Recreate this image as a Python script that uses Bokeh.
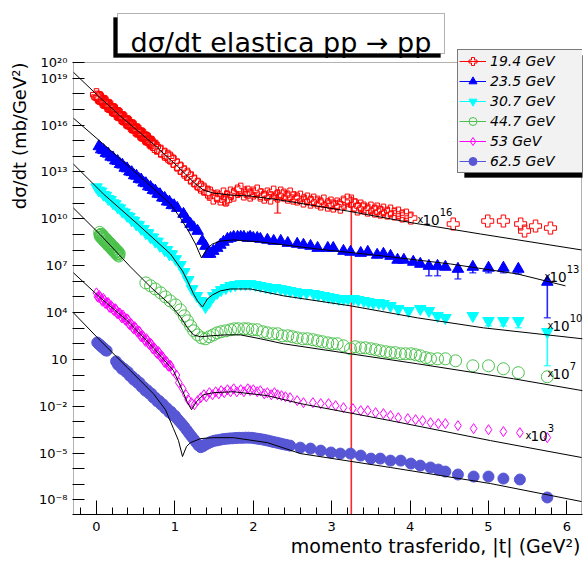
import numpy as np
from bokeh.plotting import figure
from bokeh.models import (Range1d, FixedTicker, CustomJSTickFormatter, Label, Title,
                          Legend, LegendItem, BoxAnnotation)
from bokeh.embed import file_html
from bokeh.resources import INLINE

FONT = "DejaVu Sans"

# ---------------- data (t in GeV^2, log10 of dsigma/dt in mb/GeV^2, unscaled) ----------------
ENERGY_LABELS = ["19.4 GeV", "23.5 GeV", "30.7 GeV", "44.7 GeV", "53 GeV", "62.5 GeV"]
SCALE_EXP = [16, 13, 10, 7, 3, 0]

T_194 = [0.00, 0.03, 0.06, 0.09, 0.12, 0.15, 0.18, 0.21, 0.24, 0.27, 0.30, 0.33, 0.36, 0.39, 0.42,
         0.45, 0.48, 0.51, 0.54, 0.57, 0.60, 0.63, 0.66, 0.69, 0.72, 0.74,
         0.015, 0.045, 0.075, 0.105, 0.135, 0.165, 0.195, 0.225, 0.255, 0.285, 0.315, 0.345,
         0.375, 0.405, 0.435, 0.465, 0.495, 0.525, 0.555, 0.585, 0.615, 0.645, 0.675, 0.705,
         0.77, 0.82, 0.87, 0.91, 0.94, 0.98,
         1.03, 1.07, 1.12, 1.16, 1.20, 1.25, 1.29, 1.33, 1.37, 1.42, 1.45, 1.49,
         1.54, 1.58, 1.62, 1.65, 1.67, 1.71, 1.75, 1.80, 1.84, 1.88, 1.93, 1.96,
         2.00, 2.05, 2.09, 2.14, 2.18, 2.22, 2.26, 2.31, 2.35, 2.39, 2.44, 2.47,
         2.51, 2.56, 2.60, 2.64, 2.69, 2.73, 2.77, 2.82, 2.86, 2.90, 2.95, 2.99,
         3.02, 3.07, 3.11, 3.15, 3.20, 3.25, 3.29, 3.33, 3.37, 3.41, 3.46, 3.50,
         3.55, 3.58, 3.62, 3.66, 3.71, 3.75, 3.80, 3.85, 3.90, 3.95, 4.01,
         4.55, 4.99, 5.19, 5.41, 5.46, 5.60, 5.79]
LG_194 = [1.95, 1.74, 1.67, 1.47, 1.42, 1.22, 1.16, 0.96, 0.91, 0.70, 0.65, 0.43, 0.38, 0.16, 0.12,
          -0.10, -0.14, -0.36, -0.40, -0.62, -0.66, -0.88, -0.92, -1.13, -1.23, -1.37,
          1.80, 1.76, 1.53, 1.50, 1.27, 1.24, 1.01, 0.98, 0.75, 0.72, 0.49, 0.46,
          0.23, 0.20, -0.03, -0.06, -0.29, -0.32, -0.55, -0.58, -0.81, -0.85, -1.07, -1.11,
          -1.48, -1.67, -1.86, -1.99, -2.11, -2.31,
          -2.56, -2.75, -3.01, -3.14, -3.39, -3.58, -3.78, -3.97, -4.10, -4.29, -4.35, -4.67,
          -4.54, -4.73, -4.41, -4.80, -4.61, -4.35, -4.48, -4.22, -4.10, -4.41, -4.29, -4.48,
          -4.35, -4.22, -4.48, -4.61, -4.41, -4.67, -4.29, -4.54, -4.35, -4.48, -4.61, -4.41,
          -4.67, -4.73, -4.61, -4.86, -4.73, -4.93, -4.80, -4.93, -5.05, -4.86, -5.12, -4.99,
          -5.18, -5.05, -5.25, -4.93, -4.80, -4.86, -5.12, -5.37, -5.18, -5.31, -5.44, -5.31,
          -5.50, -5.37, -5.57, -5.44, -5.63, -5.50, -5.69, -5.63, -5.82, -5.76, -5.95,
          -6.33, -6.14, -6.14, -6.33, -6.78, -6.46, -6.59]

T_235 = [0.03, 0.06, 0.09, 0.12, 0.15, 0.18, 0.21, 0.24, 0.27, 0.30, 0.33, 0.36, 0.39, 0.42, 0.45,
         0.48, 0.51, 0.54, 0.57, 0.60, 0.63, 0.66, 0.69, 0.72, 0.75, 0.78, 0.81, 0.84, 0.87, 0.90,
         0.93, 0.96, 0.99,
         1.03, 1.11, 1.15, 1.20, 1.24, 1.29, 1.35, 1.39, 1.42, 1.45,
         1.49, 1.54, 1.58, 1.62, 1.67, 1.71, 1.75, 1.80, 1.84, 1.88,
         1.93, 1.96, 2.00, 2.05, 2.09, 2.18, 2.26, 2.35, 2.44, 2.56,
         2.64, 2.73, 2.82, 2.95, 3.02, 3.15, 3.24, 3.37, 3.46, 3.58,
         3.66, 3.75, 3.84, 3.92, 4.04, 4.13, 4.24, 4.35, 4.45, 4.61,
         4.80, 5.00, 5.19, 5.38, 5.75]
LG_235 = [1.64, 1.44, 1.39, 1.21, 1.16, 0.97, 0.92, 0.73, 0.69, 0.50, 0.46, 0.26, 0.22, 0.02, -0.02,
          -0.22, -0.25, -0.45, -0.49, -0.69, -0.73, -0.93, -0.97, -1.16, -1.20, -1.40, -1.43, -1.65,
          -1.67, -1.90, -1.91, -2.13, -2.14,
          -2.31, -2.69, -3.02, -3.33, -3.55, -3.78, -4.42, -4.74, -5.25, -5.25,
          -5.06, -4.87, -4.67, -4.48, -4.29, -4.23, -4.16, -4.16, -4.16, -4.16,
          -4.23, -4.16, -4.23, -4.23, -4.29, -4.35, -4.42, -4.42, -4.55, -4.61,
          -4.67, -4.74, -4.87, -4.87, -4.87, -5.06, -5.12, -5.19, -5.12, -5.31,
          -5.25, -5.38, -5.63, -5.63, -5.76, -5.89, -6.02, -6.02, -6.08, -6.21,
          -6.08, -6.14, -6.14, -6.21, -7.04]

T_307 = [0.00, 0.03, 0.06, 0.09, 0.12, 0.15, 0.18, 0.21, 0.24, 0.27, 0.30, 0.33, 0.36, 0.39, 0.42,
         0.45, 0.48, 0.51, 0.54, 0.57, 0.60, 0.63, 0.66, 0.69, 0.72, 0.75, 0.78, 0.81, 0.84, 0.87,
         0.90, 0.93, 0.96,
         1.01, 1.07, 1.12, 1.17, 1.22, 1.28, 1.33, 1.39, 1.44, 1.49, 1.54,
         1.59, 1.65, 1.71, 1.77, 1.84, 1.90, 1.96, 2.03, 2.09,
         2.16, 2.22, 2.28, 2.35, 2.41, 2.47, 2.54, 2.60, 2.68, 2.77,
         2.83, 2.90, 2.96, 3.02, 3.09, 3.15, 3.21, 3.28, 3.34, 3.41,
         3.47, 3.53, 3.60, 3.66, 3.75, 3.85, 3.98, 4.13, 4.24, 4.35,
         4.45, 4.80, 5.00, 5.19, 5.38, 5.75]
LG_307 = [2.03, 1.82, 1.76, 1.55, 1.49, 1.28, 1.22, 1.01, 0.95, 0.74, 0.68, 0.47, 0.41, 0.20, 0.14,
          -0.08, -0.12, -0.36, -0.38, -0.63, -0.64, -0.91, -0.91, -1.18, -1.18, -1.45, -1.45, -1.72,
          -1.72, -1.99, -1.99, -2.26, -2.26,
          -2.57, -2.95, -3.40, -3.91, -4.49, -4.93, -5.25, -5.64, -5.32, -4.93, -4.74,
          -4.55, -4.42, -4.29, -4.23, -4.17, -4.17, -4.17, -4.23, -4.29,
          -4.36, -4.42, -4.42, -4.49, -4.55, -4.61, -4.68, -4.74, -4.74, -4.80,
          -4.87, -4.93, -5.00, -5.06, -5.12, -5.12, -5.12, -5.12, -5.19, -5.25,
          -5.32, -5.38, -5.38, -5.44, -5.57, -5.76, -5.89, -5.76, -5.89, -6.21,
          -6.34, -6.21, -6.53, -6.53, -6.53, -7.23]

T_447 = [0.040, 0.045, 0.050, 0.055, 0.060, 0.065, 0.070, 0.075, 0.080, 0.085,
         0.090, 0.095, 0.100, 0.105, 0.110, 0.115, 0.120, 0.125, 0.130, 0.135,
         0.140, 0.145, 0.150, 0.155, 0.160, 0.165, 0.170, 0.175, 0.180, 0.185,
         0.190, 0.195, 0.200, 0.205, 0.210, 0.215, 0.220, 0.225, 0.230, 0.235,
         0.240, 0.245, 0.250, 0.255, 0.260, 0.265, 0.270, 0.275, 0.280, 0.285, 0.290,
         0.63, 0.69, 0.75, 0.82, 0.88, 0.94, 1.01, 1.07, 1.12, 1.16,
         1.20, 1.24, 1.29, 1.34, 1.39, 1.44, 1.49, 1.54, 1.59, 1.65,
         1.71, 1.76, 1.81, 1.88, 1.93, 1.99, 2.05, 2.12, 2.18, 2.25,
         2.31, 2.37, 2.44, 2.50, 2.56, 2.63, 2.69, 2.76, 2.82, 2.88,
         2.95, 3.01, 3.07, 3.15, 3.24, 3.30, 3.37, 3.43, 3.50, 3.56,
         3.62, 3.69, 3.75, 3.81, 3.88, 3.94, 4.01, 4.07, 4.13, 4.20,
         4.26, 4.35, 4.45, 4.58, 4.80, 5.00, 5.19, 5.38, 5.75]
LG_447 = [2.13, 1.94, 1.99, 1.83, 1.99, 1.86, 1.99, 1.75, 1.85, 1.69,
          1.86, 1.67, 1.73, 1.56, 1.72, 1.60, 1.72, 1.48, 1.59, 1.42,
          1.59, 1.40, 1.46, 1.29, 1.45, 1.33, 1.45, 1.21, 1.32, 1.15,
          1.32, 1.14, 1.19, 1.02, 1.19, 1.06, 1.18, 0.95, 1.05, 0.88,
          1.06, 0.87, 0.92, 0.76, 0.92, 0.79, 0.92, 0.68, 0.78, 0.62, 0.79,
          -1.10, -1.29, -1.49, -1.74, -2.00, -2.25, -2.51, -2.83, -3.21, -3.53,
          -3.85, -4.17, -4.43, -4.62, -4.68, -4.55, -4.43, -4.30, -4.23, -4.17,
          -4.10, -4.04, -4.04, -4.04, -4.04, -4.10, -4.10, -4.23, -4.30, -4.36,
          -4.36, -4.49, -4.49, -4.55, -4.62, -4.68, -4.68, -4.74, -4.81, -4.87,
          -4.94, -5.00, -5.00, -5.13, -5.32, -5.19, -5.26, -5.26, -5.32, -5.38,
          -5.45, -5.51, -5.57, -5.57, -5.64, -5.64, -5.64, -5.70, -5.77, -5.89,
          -5.96, -5.96, -5.96, -6.09, -6.41, -6.41, -6.60, -6.85, -7.11]

T_53 = [0.000, 0.025, 0.050, 0.075, 0.100, 0.125, 0.150, 0.175, 0.200, 0.225, 0.250, 0.275, 0.300,
        0.325, 0.350, 0.375, 0.400, 0.425, 0.450, 0.475, 0.500, 0.525, 0.550, 0.575, 0.600, 0.625,
        0.650, 0.675, 0.700, 0.725, 0.750, 0.775, 0.800, 0.825, 0.850, 0.875, 0.900, 0.925, 0.950,
        0.0125, 0.0375, 0.0625, 0.0875, 0.1125, 0.1375, 0.1625, 0.1875, 0.2125, 0.2375,
        0.2625, 0.2875, 0.3125, 0.3375, 0.3625, 0.3875, 0.4125, 0.4375, 0.4625, 0.4875,
        0.5125, 0.5375, 0.5625, 0.5875, 0.6125, 0.6375, 0.6625, 0.6875, 0.7125, 0.7375,
        0.7625, 0.7875, 0.8125, 0.8375, 0.8625, 0.8875, 0.9125, 0.9375,
        0.98, 1.02, 1.05, 1.10, 1.14, 1.17, 1.21, 1.25, 1.29, 1.33,
        1.37, 1.40, 1.44, 1.48, 1.52, 1.56, 1.59, 1.63, 1.67, 1.71,
        1.75, 1.79, 1.84, 1.88, 1.93, 1.96, 2.00, 2.05, 2.09, 2.14,
        2.18, 2.23, 2.27, 2.31, 2.36, 2.41, 2.47, 2.56, 2.64, 2.76,
        2.86, 2.96, 3.05, 3.15, 3.27, 3.37, 3.46, 3.56, 3.66, 3.75,
        3.85, 3.97, 4.07, 4.16, 4.26, 4.36, 4.45, 4.61, 4.81, 5.00,
        5.19, 5.40, 5.75]
LG_53 = [2.26, 1.97, 1.97, 1.72, 1.80, 1.58, 1.64, 1.31, 1.35, 1.11, 1.20, 0.93, 0.96,
         0.65, 0.70, 0.49, 0.56, 0.22, 0.24, -0.06, 0.01, -0.26, -0.22, -0.55, -0.55, -0.85,
         -0.78, -1.05, -1.01, -1.34, -1.33, -1.63, -1.56, -1.87, -1.87, -2.21, -2.18, -2.45, -2.43,
         2.01, 2.09, 1.84, 1.91, 1.58, 1.63, 1.35, 1.44, 1.18, 1.25,
         0.93, 0.98, 0.74, 0.84, 0.55, 0.60, 0.26, 0.32, 0.02, 0.10,
         -0.20, -0.17, -0.52, -0.47, -0.75, -0.67, -0.99, -0.96, -1.29, -1.26,
         -1.56, -1.49, -1.81, -1.80, -2.15, -2.11, -2.41, -2.36,
         -2.75, -3.00, -3.49, -3.88, -4.26, -4.58, -4.77, -4.90, -4.64, -4.45,
         -4.26, -4.39, -4.13, -4.26, -4.07, -4.20, -4.00, -4.13, -3.94, -4.07,
         -3.88, -4.07, -3.94, -4.07, -3.88, -4.00, -3.94, -4.07, -4.00, -4.20,
         -4.13, -4.26, -4.13, -4.26, -4.32, -4.39, -4.45, -4.64, -4.77, -4.77,
         -4.83, -4.83, -4.96, -5.09, -5.15, -5.28, -5.28, -5.41, -5.47, -5.60,
         -5.73, -5.79, -5.86, -5.92, -6.05, -6.11, -6.11, -6.24, -6.43, -6.50,
         -6.62, -6.69, -7.01]

T_625 = [0.01, 0.03, 0.05, 0.07, 0.09, 0.11, 0.13,
         0.250, 0.275, 0.300, 0.325, 0.350, 0.375, 0.400, 0.425, 0.450, 0.475, 0.500, 0.525,
         0.550, 0.575, 0.600, 0.625, 0.650, 0.675, 0.700, 0.725, 0.750, 0.775, 0.800, 0.825,
         0.850, 0.875, 0.900, 0.925, 0.950, 0.975, 1.000,
         1.03, 1.06, 1.09, 1.12, 1.15, 1.18, 1.21, 1.24, 1.27, 1.30,
         1.33, 1.36, 1.39, 1.42, 1.45, 1.48, 1.51, 1.54, 1.58, 1.62,
         1.66, 1.70, 1.74, 1.78, 1.82, 1.86, 1.90, 1.94, 1.98, 2.02,
         2.06, 2.10, 2.14, 2.18, 2.22, 2.26, 2.30, 2.34, 2.38, 2.42,
         2.47, 2.60, 2.73, 2.86, 2.99, 3.11, 3.24, 3.37, 3.50, 3.62,
         3.75, 3.88, 4.01, 4.13, 4.26, 4.36, 4.45, 4.61, 4.81, 5.00,
         5.19, 5.40, 5.75]
LG_625 = [2.08, 1.97, 1.91, 1.79, 1.73, 1.61, 1.56,
          0.87, 0.65, 0.61, 0.39, 0.40, 0.21, 0.20, -0.05, -0.07, -0.30, -0.28, -0.50,
          -0.49, -0.75, -0.77, -1.00, -0.98, -1.19, -1.19, -1.44, -1.45, -1.68, -1.66, -1.89,
          -1.88, -2.13, -2.13, -2.37, -2.35, -2.58, -2.60,
          -2.80, -2.97, -3.14, -3.32, -3.52, -3.72, -3.92, -4.10, -4.30, -4.50,
          -4.62, -4.55, -4.45, -4.38, -4.30, -4.25, -4.20, -4.18, -4.14, -4.10,
          -4.08, -4.06, -4.05, -4.03, -4.02, -4.02, -4.01, -4.01, -4.02, -4.05,
          -4.08, -4.11, -4.15, -4.19, -4.24, -4.29, -4.33, -4.38, -4.43, -4.47,
          -4.52, -4.65, -4.71, -4.84, -4.96, -5.03, -5.03, -5.16, -5.35, -5.35,
          -5.48, -5.48, -5.67, -5.80, -5.92, -6.05, -6.18, -6.37, -6.50, -6.50,
          -6.63, -6.69, -7.84]

# error bars: t, lower and upper log10 limits (unscaled); -30 means the bar reaches zero
ERR_T_194 = [1.65, 2.31, 3.25]
ERR_LO_194 = [-5.12, -5.63, -30.0]
ERR_HI_194 = [-4.61, -4.22, -4.54]
ERR_T_235 = [4.24, 4.35, 4.61, 4.80, 5.00, 5.19, 5.38, 5.75]
ERR_LO_235 = [-6.65, -6.65, -6.85, -6.46, -6.46, -6.46, -6.53, -9.34]
ERR_HI_235 = [-6.02, -6.02, -6.21, -6.08, -6.14, -6.14, -6.21, -7.04]
ERR_T_307 = [5.00, 5.19, 5.38, 5.75]
ERR_LO_307 = [-6.85, -6.85, -6.98, -9.41]
ERR_HI_307 = [-6.53, -6.53, -6.53, -7.23]

# fitted model curves
FIT_T_194 = [-0.293, 0.0, 0.306, 0.727, 1.033, 1.135, 1.237, 1.365, 1.492, 1.709, 1.964, 2.347,
             3.202, 4.043, 4.898, 6.186]
FIT_LG_194 = [3.38, 1.97, 0.57, -1.22, -2.63, -3.14, -3.65, -4.16, -4.35, -4.48, -4.54, -4.80,
              -5.50, -6.27, -6.97, -7.99]
FIT_T_235 = [-0.293, 0.089, 0.523, 0.944, 1.071, 1.173, 1.263, 1.301, 1.339, 1.378, 1.416, 1.480,
             1.582, 1.747, 2.092, 2.819, 3.661, 4.515, 5.370, 5.982]
FIT_LG_235 = [3.44, 1.78, -0.14, -2.05, -2.95, -3.78, -4.61, -5.06, -5.50, -5.18, -4.87, -4.61,
              -4.42, -4.35, -4.48, -4.93, -5.38, -5.89, -6.53, -7.29]
FIT_T_307 = [-0.293, 0.089, 0.523, 0.944, 1.097, 1.161, 1.237, 1.288, 1.352, 1.416, 1.480, 1.582,
             1.709, 1.964, 2.385, 3.240, 4.094, 4.936, 6.199]
FIT_LG_307 = [3.50, 1.59, -0.33, -2.25, -3.34, -3.97, -4.80, -5.25, -5.64, -5.12, -4.87, -4.61,
              -4.49, -4.49, -4.93, -5.57, -6.34, -6.98, -7.68]
FIT_T_447 = [-0.293, 0.051, 0.434, 0.689, 0.944, 1.071, 1.161, 1.237, 1.327, 1.454, 1.645, 1.837,
             2.092, 2.385, 3.240, 4.094, 5.319, 6.199]
FIT_LG_447 = [3.69, 1.97, -0.08, -1.36, -2.51, -3.27, -3.98, -4.43, -4.55, -4.49, -4.43, -4.43,
              -4.68, -5.00, -5.64, -6.28, -7.24, -8.00]
FIT_T_53 = [-0.293, 0.051, 0.395, 0.727, 0.982, 1.097, 1.161, 1.212, 1.276, 1.365, 1.492, 1.747,
            2.181, 2.602, 3.750, 5.026, 6.186]
FIT_LG_53 = [3.54, 1.94, 0.47, -1.26, -2.72, -4.00, -4.77, -5.22, -4.71, -4.26, -4.13, -4.07,
             -4.32, -4.83, -5.92, -7.20, -8.28]
FIT_T_625 = [-0.293, 0.051, 0.395, 0.727, 0.880, 0.982, 1.046, 1.097, 1.148, 1.199, 1.327, 1.492,
             1.747, 2.181, 2.602, 3.750, 5.026, 6.186]
FIT_LG_625 = [3.98, 2.19, 0.47, -1.20, -2.22, -3.43, -4.20, -5.22, -4.58, -4.33, -4.07, -4.01,
              -4.01, -4.33, -5.03, -5.92, -6.95, -8.10]

X_TICKS = [0, 1, 2, 3, 4, 5, 6]
Y_LABEL_EXP = [20, 19, 16, 13, 10, 7, 4, 1, -2, -5, -8]
TITLE = "dσ/dt elastica pp → pp"
X_TITLE = "momento trasferido, |t| (GeV²)"
Y_TITLE = "dσ/dt (mb/GeV²)"

# ---------------- styles ----------------
COLORS = ["#ff0000", "#0000ff", "#00ffff", "#4cc24c", "#ff00ff", "#5757d6"]
MARKERS = ["plus", "triangle", "inverted_triangle", "circle", "diamond", "circle"]
FILLED = [False, True, True, False, False, True]
SIZES = [12, 11.5, 11.5, 12, 10, 11]

# ---------------- geometry: reference axes box 73..581 x 62..514 px ----------------
W, H = 584, 563
BX0, BX1, BY0, BY1 = 73, 581, 62, 514
T_AT_BX0, T_AT_BX1 = -0.293, 6.186
LOG_AT_BY0, LOG_AT_BY1 = 20.01, -8.93


def cx(px):
    return T_AT_BX0 + (px - BX0) * (T_AT_BX1 - T_AT_BX0) / (BX1 - BX0)


def cy(py):
    return 10 ** (LOG_AT_BY0 + (py - BY0) * (LOG_AT_BY1 - LOG_AT_BY0) / (BY1 - BY0))


# the plotting frame spans up to the top of the canvas so that title and legend are not clipped
FX0, FX1, FY0, FY1 = 72, 582, 0, 514
p = figure(width=W, height=H, x_range=Range1d(cx(FX0), cx(FX1)),
           y_range=Range1d(cy(FY1), cy(FY0)), y_axis_type="log",
           output_backend="svg", toolbar_location=None,
           min_border_left=FX0, min_border_right=W - FX1,
           min_border_top=FY0, min_border_bottom=H - FY1)
p.background_fill_color = "white"
p.border_fill_color = "white"
p.outline_line_color = None
p.xgrid.visible = False
p.ygrid.visible = False

xa = p.xaxis[0]
ya = p.yaxis[0]
xa.ticker = FixedTicker(ticks=X_TICKS,
                        minor_ticks=[round(-0.2 + 0.2 * i, 1) for i in range(33) if i % 5 != 1])
xa.major_tick_in = 14
xa.major_tick_out = 0
xa.minor_tick_in = 7
xa.minor_tick_out = 0
xa.major_label_standoff = 7
xa.axis_line_color = "black"
ya.axis_line_color = None
for ax in (xa, ya):
    ax.major_tick_line_color = "black"
    ax.minor_tick_line_color = "black"
    ax.major_label_text_font = FONT
    ax.major_label_text_font_size = "13px"
    ax.major_label_text_color = "black"

ya.ticker = FixedTicker(ticks=[10.0 ** k for k in range(-8, 21)], minor_ticks=[])
ya.major_tick_in = 12
ya.major_tick_out = 0
ya.minor_tick_line_color = None
ya.major_label_standoff = 5
ya.formatter = CustomJSTickFormatter(args=dict(shown=Y_LABEL_EXP), code="""
const e = Math.round(Math.log10(tick));
if (shown.indexOf(e) < 0) { return ""; }
if (e == 1) { return "10"; }
const sup = {"0":"\u2070","1":"\u00b9","2":"\u00b2","3":"\u00b3","4":"\u2074","5":"\u2075",
             "6":"\u2076","7":"\u2077","8":"\u2078","9":"\u2079","-":"\u207b"};
let s = "";
for (const c of String(e)) { s += sup[c]; }
return "10" + s;
""")

# axis titles, aligned to the far ends of the axes (ROOT style)
p.add_layout(Title(text=X_TITLE, align="right", vertical_align="top", offset=2, standoff=2,
                   text_font=FONT, text_font_size="19px", text_font_style="normal",
                   text_color="black"), "below")
p.add_layout(Title(text=Y_TITLE, align="right", vertical_align="bottom", offset=BY0, standoff=12,
                   text_font=FONT, text_font_size="18px", text_font_style="normal",
                   text_color="black"), "left")

# axes box
p.add_layout(BoxAnnotation(left=cx(BX0), right=cx(BX1), top=cy(BY0), bottom=cy(BY1),
                           fill_color=None, fill_alpha=0, line_color="black", line_width=1),
             "center")

SERIES = [
    (T_194, LG_194, FIT_T_194, FIT_LG_194, ERR_T_194, ERR_LO_194, ERR_HI_194),
    (T_235, LG_235, FIT_T_235, FIT_LG_235, ERR_T_235, ERR_LO_235, ERR_HI_235),
    (T_307, LG_307, FIT_T_307, FIT_LG_307, ERR_T_307, ERR_LO_307, ERR_HI_307),
    (T_447, LG_447, FIT_T_447, FIT_LG_447, [], [], []),
    (T_53, LG_53, FIT_T_53, FIT_LG_53, [], [], []),
    (T_625, LG_625, FIT_T_625, FIT_LG_625, [], [], []),
]


def marker_kwargs(i):
    kw = dict(marker=MARKERS[i], line_color=COLORS[i], line_width=1)
    if FILLED[i]:
        kw.update(fill_color=COLORS[i], fill_alpha=1.0)
    else:
        kw.update(fill_color=None)
    return kw


# data markers + error bars
for i, (t, lg, ft, flg, et, elo, ehi) in enumerate(SERIES):
    s = SCALE_EXP[i]
    y = 10 ** (np.array(lg) + s)
    if et:
        ylo = 10 ** (np.array(elo) + s)
        yhi = 10 ** (np.array(ehi) + s)
        p.segment(x0=et, y0=ylo, x1=et, y1=yhi, line_color=COLORS[i], line_width=1.6,
                  line_alpha=0.85)
        p.scatter(x=et, y=ylo, marker="dash", size=7, line_color=COLORS[i], line_width=1)
    p.scatter(x=t, y=y, size=SIZES[i], **marker_kwargs(i))

# fit curves on top
for i, (t, lg, ft, flg, et, elo, ehi) in enumerate(SERIES):
    p.line(x=ft, y=10 ** (np.array(flg) + SCALE_EXP[i]), line_color="black", line_width=1)

# legend glyph renderers (a single point far outside the visible ranges)
legend_renderers = []
for i in range(len(ENERGY_LABELS)):
    lr = p.line(x=[-50, -49], y=[1, 1], line_color=COLORS[i], line_width=1)
    sr = p.scatter(x=[-50], y=[1], **marker_kwargs(i))
    legend_renderers.append([lr, sr])

# legend shadow, then legend
LEG_LEFT, LEG_TOP, LEG_BOTTOM = 457, 51, 173
p.add_layout(BoxAnnotation(left=cx(LEG_LEFT + 7), right=cx(FX1 + 10), top=cy(LEG_TOP + 4),
                           bottom=cy(LEG_BOTTOM + 4), fill_color="black", fill_alpha=1.0,
                           line_color="black"), "center")
legend = Legend(items=[LegendItem(label=ENERGY_LABELS[i], renderers=legend_renderers[i])
                       for i in range(len(ENERGY_LABELS))],
                location=(LEG_LEFT - FX0, FY1 - LEG_BOTTOM), orientation="vertical",
                glyph_width=27, glyph_height=20, label_height=20, spacing=0,
                padding=1, margin=0, label_standoff=4, label_width=93,
                border_line_color="black", border_line_width=1,
                background_fill_color="#f2f2f2", background_fill_alpha=1.0,
                label_text_font=FONT, label_text_font_style="italic",
                label_text_font_size="14px", label_text_color="black")
p.add_layout(legend, "center")

# scale factor labels
SCALE_LABEL_POS = [(417, 219), (544, 276), (547, 325), (547, 373), (525, 435)]
for (px, py), s in zip(SCALE_LABEL_POS, SCALE_EXP[:5]):
    p.add_layout(Label(x=cx(px), y=cy(py - 0.5), text="x", text_font=FONT,
                       text_font_size="10px", text_color="black",
                       text_baseline="alphabetic", text_align="left"), "center")
    p.add_layout(Label(x=cx(px + 5), y=cy(py), text="10", text_font=FONT,
                       text_font_size="13.5px", text_color="black",
                       text_baseline="alphabetic", text_align="left"), "center")
    p.add_layout(Label(x=cx(px + 22.2), y=cy(py - 8), text=str(s), text_font=FONT,
                       text_font_size="10px", text_color="black",
                       text_baseline="alphabetic", text_align="left"), "center")

# title box with shadow
p.add_layout(BoxAnnotation(left=cx(113), right=cx(440), top=cy(17), bottom=cy(57),
                           fill_color="black", fill_alpha=1.0, line_color="black"), "center")
p.add_layout(BoxAnnotation(left=cx(117), right=cx(444), top=cy(13), bottom=cy(53),
                           fill_color="white", fill_alpha=1.0, line_color="black",
                           line_width=1), "center")
p.add_layout(Label(x=cx(280.5), y=cy(42), text=TITLE, text_font=FONT, text_font_size="27px",
                   text_color="black", text_align="center", text_baseline="alphabetic"), "center")

with open("out.html", "w", encoding="utf-8") as f:
    f.write(file_html(p, INLINE))
